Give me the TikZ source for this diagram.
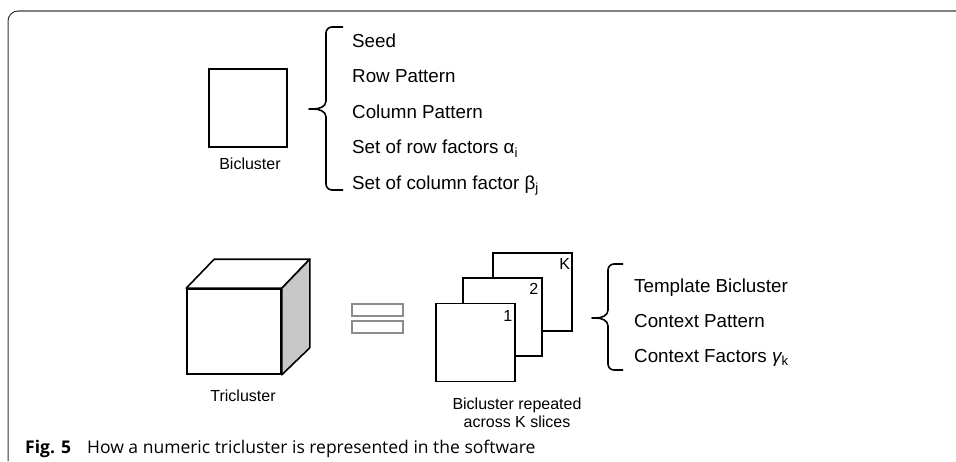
\documentclass[tikz,border=0pt]{standalone}
\usepackage{fontspec}
\setmainfont{Liberation Sans}
\newfontfamily\capfont{Open Sans}
\usetikzlibrary{positioning}

\tikzset{
  box/.style={draw, line width=1.6pt, fill=white, minimum width=78pt, minimum height=78pt, inner sep=0pt},
  slice/.style={box, minimum width=79pt, minimum height=78pt},
  num/.style={inner sep=0pt, font=\fontsize{16}{18}\selectfont},
  item/.style={anchor=base west, inner sep=0pt, font=\fontsize{18.8}{21}\selectfont},
  lbl/.style={anchor=base, inner sep=0pt, font=\fontsize{16}{18}\selectfont},
  brace/.style={line width=1.6pt, line join=round},
  bar/.style={draw=black!45, line width=1.2pt, fill=white, minimum width=51pt, minimum height=12pt, inner sep=0pt},
  frametop/.style={draw=black!50, line width=1.5pt},
  frameside/.style={draw=black!80, line width=1pt},
  capt/.style={anchor=base west, inner sep=0pt, font=\capfont\fontsize{17.5}{20}\selectfont},
}

\begin{document}
\begin{tikzpicture}[x=1pt, y=-1pt]
\useasboundingbox (0,0) rectangle (956,461);

\draw[frametop] (956,11) -- (18,11);
\draw[frameside] (18,11) to[out=180,in=90] (8,21) -- (8,461);

\node[box] (bic) at (248,108) {};
\node[lbl] (biclbl) at (250,169) {Bicluster};

\draw[brace] (343,27) -- (332,27) to[out=180,in=90] (326,33) -- (326,101)
  to[out=-90,in=0] (313,109) -- (309,109) -- (313,109)
  to[out=0,in=90] (326,117) -- (326,184) to[out=-90,in=180] (332,190) -- (343,190);

\node[item] (seed) at (352,47) {Seed};
\node[item] (rowp) at ([yshift=-35.5pt]seed.base west) {Row Pattern};
\node[item] (colp) at ([yshift=-35.5pt]rowp.base west) {Column Pattern};
\node[item] (rowf) at ([yshift=-35.5pt]colp.base west) {Set of row factors α\textsubscript{i}};
\node[item] (colf) at ([yshift=-35.5pt]rowf.base west) {Set of column factor β\textsubscript{j}};

\node[box, minimum width=94pt, minimum height=85pt] (tri) at (234,331.5) {};
\draw[line width=1.6pt, line join=round, fill=white] (tri.north west) -- ([shift={(28,-29)}]tri.north west)
  -- ([shift={(28,-29)}]tri.north east) -- (tri.north east) -- cycle;
\draw[line width=1.6pt, line join=round, fill=black!22] (tri.north east) -- ([shift={(28,-29)}]tri.north east)
  -- ([shift={(28,-27)}]tri.south east) -- (tri.south east) -- cycle;
\node[lbl] (trilbl) at (243,401.7) {Tricluster};

\node[bar] (eqtop) at (377.5,310) {};
\node[bar] (eqbot) at (377.5,327) {};

\node[slice] (sk) at (532.5,292) {};
\node[slice] (s2) at (502.5,317) {};
\node[slice] (s1) at (475.5,342.5) {};
\node[num] at ([shift={(-8,12)}]sk.north east) {K};
\node[num] at ([shift={(-9,12)}]s2.north east) {2};
\node[num] at ([shift={(-8,13)}]s1.north east) {1};

\node[lbl] (rep1) at (517,409) {Bicluster repeated};
\node[lbl] (rep2) at ([yshift=-18pt]rep1.base) {across K slices};

\draw[brace] (623,264) -- (614,264) to[out=180,in=90] (608,270) -- (608,310)
  to[out=-90,in=0] (596,318) -- (592,318) -- (596,318)
  to[out=0,in=90] (608,326) -- (608,364) to[out=-90,in=180] (614,370) -- (623,370);

\node[item] (tmpl) at (634,292) {Template Bicluster};
\node[item] (ctxp) at ([yshift=-35pt]tmpl.base west) {Context Pattern};
\node[item] (ctxf) at ([yshift=-35pt]ctxp.base west) {Context Factors {\itshape γ}\textsubscript{k}};

\node[capt, font=\capfont\bfseries\fontsize{17.5}{20}\selectfont] (fig) at (25,453) {Fig. 5};
\node[capt] (cap) at (87,453) {How a numeric tricluster is represented in the software};
\end{tikzpicture}
\end{document}
